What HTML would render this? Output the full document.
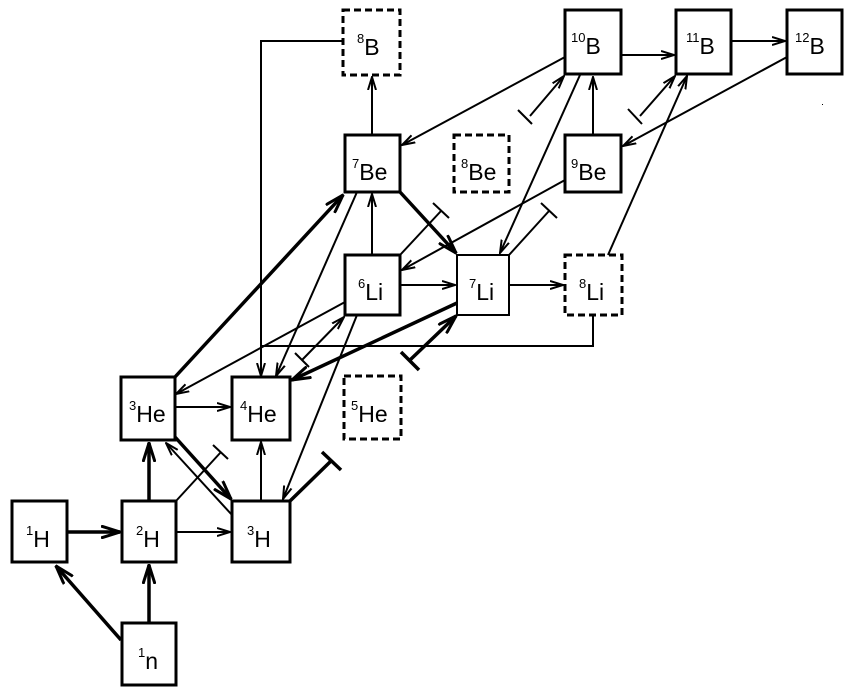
<!DOCTYPE html>
<html><head><meta charset="utf-8"><style>
html,body{margin:0;padding:0;background:#fff;}
svg{display:block;}
text{font-family:"Liberation Sans",sans-serif;fill:#000;}
.l{font-size:23px;}
.s{font-size:13px;}
</style></head><body>
<svg width="853" height="697" viewBox="0 0 853 697" xmlns="http://www.w3.org/2000/svg">
<defs>
<marker id="a" markerWidth="14" markerHeight="10" refX="13" refY="5" orient="auto" markerUnits="userSpaceOnUse">
<path d="M0,1 L13,5 L0,9" fill="none" stroke="#000" stroke-width="2"/>
</marker>
<marker id="at" markerWidth="20" markerHeight="14" refX="19" refY="7" orient="auto" markerUnits="userSpaceOnUse">
<path d="M0,1 L19,7 L0,13" fill="none" stroke="#000" stroke-width="3"/>
</marker>
</defs>
<g fill="none" stroke="#000">
<!-- boxes -->
<g stroke-width="3">
<rect x="12" y="501" width="55" height="61"/>
<rect x="122" y="501" width="54" height="61"/>
<rect x="232" y="501" width="58" height="61"/>
<rect x="122" y="623" width="54" height="62"/>
<rect x="121" y="377" width="54" height="63"/>
<rect x="232" y="377" width="58" height="63"/>
<rect x="345" y="255" width="55" height="60"/>
<rect x="457" y="255" width="52" height="60" stroke-width="2"/>
<rect x="345" y="135" width="55" height="57"/>
<rect x="565" y="135" width="56" height="57"/>
<rect x="565" y="10" width="56" height="64"/>
<rect x="676" y="10" width="55" height="64"/>
<rect x="787" y="10" width="55" height="64"/>
</g>
<g stroke-width="3" stroke-dasharray="7,4">
<rect x="344" y="376" width="57" height="63"/>
<rect x="565" y="255" width="57" height="60"/>
<rect x="454" y="135" width="55" height="57"/>
<rect x="343" y="10" width="57" height="65"/>
</g>
<!-- thick edges -->
<g stroke-width="3.5">
<line x1="121" y1="640" x2="56" y2="566" marker-end="url(#at)"/>
<line x1="149" y1="623" x2="149" y2="565" marker-end="url(#at)"/>
<line x1="67" y1="532" x2="120" y2="532" marker-end="url(#at)"/>
<line x1="149" y1="501" x2="149" y2="443" marker-end="url(#at)"/>
<line x1="175" y1="437" x2="231" y2="499" marker-end="url(#at)"/>
<line x1="175" y1="377" x2="343" y2="195" marker-end="url(#at)"/>
<line x1="400" y1="192" x2="456" y2="253" marker-end="url(#at)"/>
<line x1="457" y1="303" x2="292" y2="380" marker-end="url(#at)"/>
<line x1="410" y1="360" x2="456" y2="316" marker-end="url(#at)"/>
<line x1="401" y1="352" x2="419" y2="370"/>
<line x1="290" y1="501" x2="331" y2="461"/>
<line x1="322" y1="452" x2="341" y2="470"/>
</g>
<!-- thin edges -->
<g stroke-width="2">
<line x1="176" y1="532" x2="230" y2="532" marker-end="url(#a)"/>
<line x1="176" y1="501" x2="221" y2="452"/>
<line x1="213" y1="445" x2="228" y2="459"/>
<line x1="232" y1="515" x2="166" y2="443" marker-end="url(#a)"/>
<line x1="261" y1="501" x2="261" y2="442" marker-end="url(#a)"/>
<line x1="175" y1="407" x2="230" y2="407" marker-end="url(#a)"/>
<line x1="357" y1="192" x2="276" y2="376" marker-end="url(#a)"/>
<polyline points="343,41 261,41 261,376" marker-end="url(#a)"/>
<polyline points="593,315 593,346 261,346"/>
<line x1="345" y1="302" x2="176" y2="394" marker-end="url(#a)"/>
<line x1="357" y1="315" x2="283" y2="499" marker-end="url(#a)"/>
<line x1="302" y1="360" x2="344" y2="317" marker-end="url(#a)"/>
<line x1="295" y1="353" x2="309" y2="367"/>
<line x1="372" y1="255" x2="372" y2="194" marker-end="url(#a)"/>
<line x1="372" y1="135" x2="372" y2="77" marker-end="url(#a)"/>
<line x1="400" y1="255" x2="441" y2="211"/>
<line x1="433" y1="203" x2="449" y2="218"/>
<line x1="400" y1="285" x2="455" y2="285" marker-end="url(#a)"/>
<line x1="509" y1="285" x2="563" y2="285" marker-end="url(#a)"/>
<line x1="509" y1="255" x2="549" y2="211"/>
<line x1="541" y1="203" x2="557" y2="218"/>
<line x1="565" y1="180" x2="402" y2="270" marker-end="url(#a)"/>
<line x1="565" y1="57" x2="402" y2="145" marker-end="url(#a)"/>
<line x1="580" y1="75" x2="500" y2="253" marker-end="url(#a)"/>
<line x1="530" y1="116" x2="564" y2="76" marker-end="url(#a)"/>
<line x1="518" y1="110" x2="532" y2="124"/>
<line x1="593" y1="135" x2="593" y2="77" marker-end="url(#a)"/>
<line x1="621" y1="55" x2="674" y2="55" marker-end="url(#a)"/>
<line x1="731" y1="41" x2="785" y2="41" marker-end="url(#a)"/>
<line x1="787" y1="57" x2="623" y2="146" marker-end="url(#a)"/>
<line x1="640" y1="116" x2="675" y2="76" marker-end="url(#a)"/>
<line x1="628" y1="109" x2="642" y2="124"/>
<line x1="608" y1="255" x2="687" y2="76" marker-end="url(#a)"/>
</g>
</g>
<!-- labels -->
<g>
<text x="26" y="547" class="l"><tspan class="s" dy="-12">1</tspan><tspan dy="12">H</tspan></text>
<text x="136" y="547" class="l"><tspan class="s" dy="-12">2</tspan><tspan dy="12">H</tspan></text>
<text x="247" y="547" class="l"><tspan class="s" dy="-12">3</tspan><tspan dy="12">H</tspan></text>
<text x="138" y="669" class="l"><tspan class="s" dy="-12">1</tspan><tspan dy="12">n</tspan></text>
<text x="129" y="422" class="l"><tspan class="s" dy="-12">3</tspan><tspan dy="12">He</tspan></text>
<text x="240" y="422" class="l"><tspan class="s" dy="-12">4</tspan><tspan dy="12">He</tspan></text>
<text x="351" y="422" class="l"><tspan class="s" dy="-12">5</tspan><tspan dy="12">He</tspan></text>
<text x="358" y="300" class="l"><tspan class="s" dy="-12">6</tspan><tspan dy="12">Li</tspan></text>
<text x="469" y="300" class="l"><tspan class="s" dy="-12">7</tspan><tspan dy="12">Li</tspan></text>
<text x="579" y="300" class="l"><tspan class="s" dy="-12">8</tspan><tspan dy="12">Li</tspan></text>
<text x="352" y="180" class="l"><tspan class="s" dy="-12">7</tspan><tspan dy="12">Be</tspan></text>
<text x="461" y="180" class="l"><tspan class="s" dy="-12">8</tspan><tspan dy="12">Be</tspan></text>
<text x="571" y="180" class="l"><tspan class="s" dy="-12">9</tspan><tspan dy="12">Be</tspan></text>
<text x="357" y="55" class="l"><tspan class="s" dy="-12">8</tspan><tspan dy="12">B</tspan></text>
<text x="571" y="54" class="l"><tspan class="s" dy="-12">10</tspan><tspan dy="12">B</tspan></text>
<text x="686" y="54" class="l"><tspan class="s" dy="-12">11</tspan><tspan dy="12">B</tspan></text>
<text x="795" y="54" class="l"><tspan class="s" dy="-12">12</tspan><tspan dy="12">B</tspan></text>
</g>
<rect x="822" y="104" width="1" height="1" fill="#000"/>
</svg>
</body></html>
